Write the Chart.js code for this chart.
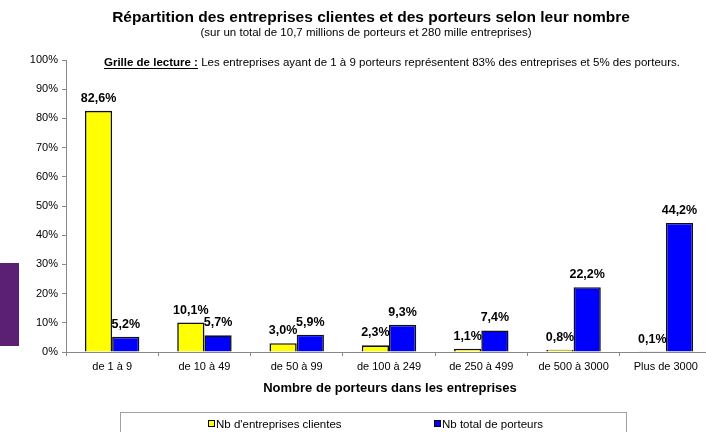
<!DOCTYPE html>
<html><head><meta charset="utf-8">
<script src="https://cdn.jsdelivr.net/npm/chart.js@4/dist/chart.umd.min.js"></script>
<style>
html,body{margin:0;padding:0;background:#fff;overflow:hidden;}
#wrap{width:706px;height:432px;overflow:hidden;position:relative;}
#c{display:block;}
</style></head>
<body><div id="wrap"><canvas id="c" width="712" height="432" style="width:712px;height:432px"></canvas></div>
<script>
const categories = ["de 1 à 9","de 10 à 49","de 50 à 99","de 100 à 249","de 250 à 499","de 500 à 3000","Plus de 3000"];
const entreprises = [82.6, 10.1, 3.0, 2.3, 1.1, 0.8, 0.1];
const porteurs = [5.2, 5.7, 5.9, 9.3, 7.4, 22.2, 44.2];
const seriesNames = ["Nb d'entreprises clientes","Nb total de porteurs"];
const titleText = "Répartition des entreprises clientes et des porteurs selon leur nombre";
const subtitleText = "(sur un total de 10,7 millions de porteurs et 280 mille entreprises)";
const readingLabel = "Grille de lecture :";
const readingText = " Les entreprises ayant de 1 à 9 porteurs représentent 83% des entreprises et 5% des porteurs.";
const xTitle = "Nombre de porteurs dans les entreprises";

const FONT = "'Liberation Sans', Arial, sans-serif";
const fmt = v => v.toFixed(1).replace('.', ',') + '%';

const deco = {
  id: 'deco',
  beforeDraw(chart) {
    const ctx = chart.ctx;
    ctx.save();
    ctx.fillStyle = '#5b1f73';
    ctx.fillRect(0, 263, 19, 83);
    ctx.restore();
  },
  afterDraw(chart) {
    const ctx = chart.ctx;
    ctx.save();
    ctx.fillStyle = '#000';
    ctx.textAlign = 'center';
    ctx.textBaseline = 'alphabetic';
    ctx.font = 'bold 15.5px ' + FONT;
    ctx.fillText(titleText, 371, 22);
    ctx.font = '11.5px ' + FONT;
    ctx.fillText(subtitleText, 366, 36);
    // reading line
    ctx.textAlign = 'left';
    ctx.font = 'bold 11.5px ' + FONT;
    const x0 = 104, y0 = 66;
    ctx.fillText(readingLabel, x0, y0);
    const w = ctx.measureText(readingLabel).width;
    ctx.fillRect(x0, y0 + 2, w, 1);
    ctx.font = '11.5px ' + FONT;
    ctx.fillText(readingText, x0 + w, y0);
    // data labels
    ctx.font = 'bold 12.5px ' + FONT;
    ctx.textAlign = 'center';
    chart.data.datasets.forEach((ds, i) => {
      const meta = chart.getDatasetMeta(i);
      meta.data.forEach((bar, j) => {
        ctx.fillText(fmt(ds.data[j]), bar.x, bar.y - 9);
      });
    });
    // x title
    ctx.font = 'bold 13px ' + FONT;
    ctx.fillText(xTitle, 390, 392);
    // legend box
    ctx.strokeStyle = '#a0a0a0';
    ctx.lineWidth = 1;
    ctx.strokeRect(120.5, 412.5, 506, 30);
    ctx.font = '11.5px ' + FONT;
    ctx.textAlign = 'left';
    const lx = [208, 434];
    chart.data.datasets.forEach((ds, i) => {
      ctx.fillStyle = ds.backgroundColor;
      ctx.fillRect(lx[i], 420, 7, 7);
      ctx.strokeStyle = '#000';
      ctx.strokeRect(lx[i] + 0.5, 420.5, 6, 6);
      ctx.fillStyle = '#000';
      ctx.fillText(ds.label, lx[i] + 8, 428);
    });
    ctx.restore();
  }
};

new Chart(document.getElementById('c'), {
  type: 'bar',
  data: {
    labels: categories,
    datasets: [
      { label: seriesNames[0], data: entreprises, backgroundColor: '#ffff00', borderColor: '#111', borderWidth: 1.6 },
      { label: seriesNames[1], data: porteurs, backgroundColor: '#0000ff', borderColor: '#111', borderWidth: 1.6 }
    ]
  },
  options: {
    responsive: false,
    animation: false,
    devicePixelRatio: 1,
    layout: { padding: { top: 60, left: 0, right: 0, bottom: 0 } },
    datasets: { bar: { categoryPercentage: 0.59, barPercentage: 1.0 } },
    plugins: { legend: { display: false }, tooltip: { enabled: false }, title: { display: false } },
    scales: {
      x: {
        afterFit(s) { s.height = 80; },
        grid: { drawOnChartArea: false, tickLength: 4, color: '#888' },
        border: { color: '#888' },
        ticks: { color: '#000', font: { family: FONT, size: 11 }, padding: 4, maxRotation: 0, autoSkip: false }
      },
      y: {
        min: 0, max: 100,
        afterFit(s) { s.width = 66; },
        grid: { drawOnChartArea: false, tickLength: 4, color: '#888' },
        border: { color: '#888' },
        ticks: { stepSize: 10, color: '#000', font: { family: FONT, size: 11 }, padding: 4, callback: v => v + '%' }
      }
    }
  },
  plugins: [deco]
});
</script></body></html>
